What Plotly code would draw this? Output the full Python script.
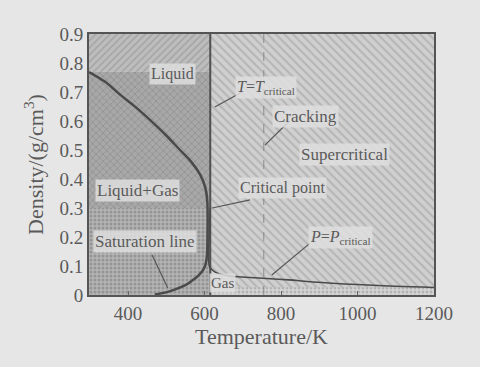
import plotly.graph_objects as go

# ---- data ----
X_MIN, X_MAX = 298, 1200
Y_MIN, Y_MAX = 0.0, 0.9
T_CRIT = 615
T_DASH = 755
LIQ_TOP = 0.77          # top of the liquid band boundary
MIX_BOTTOM = 0.30       # lower edge of cross-hatched zone
GAS_BAND = 0.027

# saturation dome (liquid branch -> critical point -> vapour branch)
sat_T = [298, 340, 380, 420, 458, 500, 536, 565, 589, 602, 607, 608, 605, 598, 584, 566, 550, 525, 502, 470]
sat_d = [0.769, 0.735, 0.69, 0.648, 0.603, 0.55, 0.50, 0.46, 0.414, 0.37, 0.328, 0.22, 0.12, 0.09, 0.067, 0.048, 0.034, 0.02, 0.01, 0.002]

# critical isobar
iso_T = [615, 612, 611, 614, 628, 663, 700, 752, 820, 884, 1000, 1100, 1200]
iso_d = [0.30, 0.20, 0.12, 0.095, 0.079, 0.066, 0.062, 0.058, 0.052, 0.045, 0.036, 0.030, 0.026]

x_ticks = [400, 600, 800, 1000, 1200]
y_ticks = [0, 0.1, 0.2, 0.3, 0.4, 0.5, 0.6, 0.7, 0.8, 0.9]
y_ticktext = ["0", "0.1", "0.2", "0.3", "0.4", "0.5", "0.6", "0.7", "0.8", "0.9"]

labels = ["Liquid", "Liquid+Gas", "Saturation line", "Gas",
          "<i>T</i>=<i>T</i><sub>critical</sub>", "Cracking", "Supercritical",
          "Critical point", "<i>P</i>=<i>P</i><sub>critical</sub>"]
label_T = [515, 426, 444, 647, 760, 863, 967, 805, 955]
label_d = [0.762, 0.36, 0.186, 0.041, 0.714, 0.617, 0.483, 0.369, 0.20]
label_size = [16, 17, 17, 15, 16, 17, 17, 16, 16]

# leader lines: start (near label) -> end (on feature)
lead_T0 = [698, 822, 719, 876, 463]
lead_d0 = [0.700, 0.600, 0.328, 0.179, 0.138]
lead_T1 = [627, 758, 620, 776, 504]
lead_d1 = [0.648, 0.517, 0.300, 0.069, 0.024]

SERIF = "Liberation Serif, Times New Roman, serif"
INK = "#5a5a5a"

fig = go.Figure()

def rect(x0, x1, y0, y1, shape, bg, fg, size=6, sol=0.3):
    fig.add_trace(go.Scatter(
        x=[x0, x1, x1, x0, x0], y=[y0, y0, y1, y1, y0],
        mode="lines", line=dict(width=0), fill="toself",
        fillcolor=bg,
        fillpattern=dict(shape=shape, bgcolor=bg, fgcolor=fg, size=size, solidity=sol),
        hoverinfo="skip", showlegend=False))

# right: supercritical region
rect(T_CRIT, X_MAX, Y_MIN, Y_MAX, "\\", "#d0d0d0", "#9a9a9a", 6, 0.35)
# gas band at bottom right
rect(T_CRIT, X_MAX, Y_MIN, GAS_BAND, ".", "#d4d4d4", "#909090", 4, 0.4)
# left: liquid / mixed zones
rect(X_MIN, T_CRIT, MIX_BOTTOM, LIQ_TOP, "x", "#a8a8a8", "#7c7c7c", 5, 0.3)
rect(X_MIN, T_CRIT, Y_MIN, MIX_BOTTOM, ".", "#b4b4b4", "#747474", 4, 0.45)
rect(X_MIN, T_CRIT, LIQ_TOP, Y_MAX, "/", "#bdbdbd", "#8a8a8a", 5, 0.3)

# critical temperature line and dashed line
fig.add_trace(go.Scatter(x=[T_CRIT, T_CRIT], y=[Y_MIN, Y_MAX], mode="lines",
                         line=dict(color="#505050", width=2), hoverinfo="skip", showlegend=False))
fig.add_trace(go.Scatter(x=[T_DASH, T_DASH], y=[Y_MIN, Y_MAX], mode="lines",
                         line=dict(color="#8a8a8a", width=1, dash="dash"), hoverinfo="skip", showlegend=False))

# saturation dome
fig.add_trace(go.Scatter(x=sat_T, y=sat_d, mode="lines", line=dict(color="#4a4a4a", width=2.5, shape="spline"),
                         hoverinfo="skip", showlegend=False))
# isobar
fig.add_trace(go.Scatter(x=iso_T, y=iso_d, mode="lines", line=dict(color="#4a4a4a", width=1.6, shape="spline"),
                         hoverinfo="skip", showlegend=False))

# leader lines
for x0, y0, x1, y1 in zip(lead_T0, lead_d0, lead_T1, lead_d1):
    fig.add_trace(go.Scatter(x=[x0, x1], y=[y0, y1], mode="lines",
                             line=dict(color="#555555", width=1.2), hoverinfo="skip", showlegend=False))

annotations = []
for t, x, y, s in zip(labels, label_T, label_d, label_size):
    annotations.append(dict(x=x, y=y, xref="x", yref="y", text=t, showarrow=False,
                            font=dict(family=SERIF, size=s, color=INK),
                            bgcolor="rgba(222,222,222,0.85)", borderpad=1))

fig.update_layout(
    width=480, height=367,
    margin=dict(l=89, r=46, t=34, b=72),
    paper_bgcolor="#e6e6e6", plot_bgcolor="#d0d0d0",
    annotations=annotations,
    xaxis=dict(range=[X_MIN, X_MAX], tickvals=x_ticks, ticks="inside", ticklen=4, tickcolor="#666",
               showgrid=False, zeroline=False, showline=True, linecolor="#555", linewidth=2, mirror=True,
               tickfont=dict(family=SERIF, size=19, color="#5a5a5a"),
               title=dict(text="Temperature/K", font=dict(family=SERIF, size=22, color="#5a5a5a"), standoff=2)),
    yaxis=dict(range=[Y_MIN, Y_MAX], tickvals=y_ticks, ticktext=y_ticktext, ticks="", showgrid=False,
               zeroline=False, showline=True, linecolor="#555", linewidth=2, mirror=True,
               tickfont=dict(family=SERIF, size=19, color="#5a5a5a"),
               title=dict(text="Density/(g/cm<sup>3</sup>)", font=dict(family=SERIF, size=22, color="#5a5a5a"), standoff=10)),
)

fig.write_html("out.html")
